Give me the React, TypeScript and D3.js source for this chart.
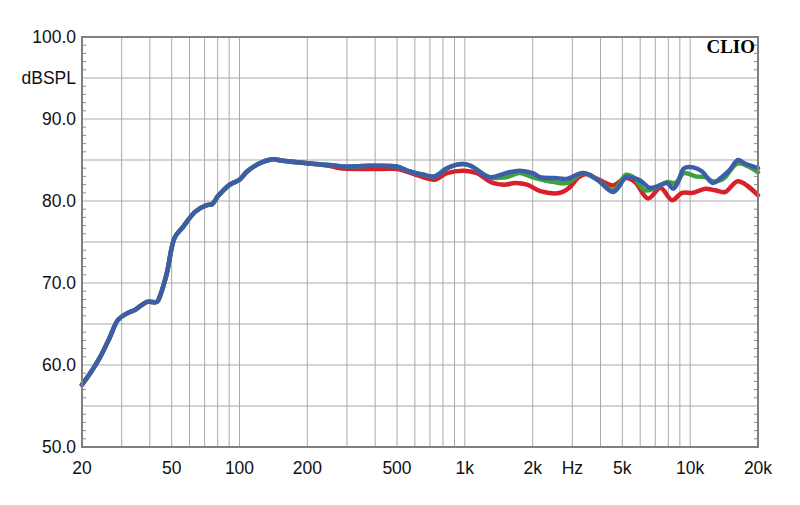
import React from "react";
import * as d3 from "d3";

const blueFreq = [20, 22, 24, 26.5, 28.9, 31.7, 34.3, 38.9, 43, 44.5, 47.6, 51.5, 56, 63.7, 71.6, 75.5, 80.3, 90.6, 100, 108, 123, 140, 156, 200, 250, 300, 380, 500, 555, 654, 735, 834, 975, 1060, 1290, 1520, 1750, 2000, 2160, 2500, 2840, 3350, 3870, 4560, 5200, 5600, 6000, 6600, 7000, 7900, 8400, 8800, 9400, 10300, 11300, 12600, 13800, 15000, 16300, 17400, 20000];
const blueDb = [57.6, 59.2, 60.9, 63.3, 65.5, 66.3, 66.7, 67.7, 67.7, 68.5, 71.2, 75.5, 76.8, 78.7, 79.5, 79.6, 80.6, 82.0, 82.6, 83.6, 84.6, 85.1, 84.9, 84.6, 84.4, 84.2, 84.3, 84.2, 83.7, 83.2, 83.0, 84.0, 84.5, 84.3, 82.9, 83.4, 83.7, 83.4, 82.9, 82.8, 82.7, 83.4, 82.6, 81.1, 82.9, 82.8, 82.5, 81.6, 81.7, 82.2, 81.5, 82.2, 84.0, 84.1, 83.6, 82.2, 82.9, 83.8, 85.0, 84.6, 84.0];

const greenFreq = [20, 22, 24, 26.5, 28.9, 31.7, 34.3, 38.9, 43, 44.5, 47.6, 51.5, 56, 63.7, 71.6, 75.5, 80.3, 90.6, 100, 108, 123, 140, 156, 200, 250, 300, 380, 500, 555, 654, 735, 834, 975, 1060, 1290, 1520, 1750, 2000, 2500, 2840, 3350, 3870, 4560, 5200, 5600, 6300, 7000, 7900, 8600, 9400, 10600, 11700, 12600, 13800, 14300, 16300, 20000];
const greenDb = [57.6, 59.2, 60.9, 63.3, 65.5, 66.3, 66.7, 67.7, 67.7, 68.5, 71.2, 75.5, 76.8, 78.7, 79.5, 79.6, 80.6, 82.0, 82.6, 83.6, 84.6, 85.1, 84.9, 84.6, 84.4, 84.2, 84.3, 84.2, 83.7, 83.2, 83.0, 84.0, 84.5, 84.3, 82.9, 82.9, 83.4, 82.9, 82.3, 82.2, 83.4, 82.6, 81.3, 83.2, 82.9, 81.3, 81.6, 82.3, 82.2, 83.4, 83.0, 82.9, 82.4, 82.6, 82.9, 84.6, 83.5];

const redFreq = [20, 22, 24, 26.5, 28.9, 31.7, 34.3, 38.9, 43, 44.5, 47.6, 51.5, 56, 63.7, 71.6, 75.5, 80.3, 90.6, 100, 108, 123, 140, 156, 200, 250, 280, 420, 500, 654, 735, 834, 990, 1130, 1330, 1520, 1660, 1890, 2160, 2650, 2900, 3200, 3450, 3870, 4400, 4560, 5200, 5700, 6500, 7400, 8300, 9200, 10300, 11700, 12900, 14300, 16300, 20000];
const redDb = [57.6, 59.2, 60.9, 63.3, 65.5, 66.3, 66.7, 67.7, 67.7, 68.5, 71.2, 75.5, 76.8, 78.7, 79.5, 79.6, 80.6, 82.0, 82.6, 83.6, 84.6, 85.1, 84.9, 84.6, 84.3, 84.0, 83.9, 83.9, 82.9, 82.6, 83.4, 83.7, 83.4, 82.2, 82.0, 82.2, 82.0, 81.2, 81.0, 81.6, 82.9, 83.3, 82.7, 82.0, 81.9, 82.8, 82.3, 80.3, 81.6, 80.1, 81.0, 81.0, 81.5, 81.3, 81.1, 82.4, 80.7];

const yTickValues = [100, 95, 90, 80, 70, 60, 50];
const yTickLabels = ["100.0", "dBSPL", "90.0", "80.0", "70.0", "60.0", "50.0"];
const xTickValues = [20, 50, 100, 200, 500, 1000, 2000, 3000, 5000, 10000, 20000];
const xTickLabels = ["20", "50", "100", "200", "500", "1k", "2k", "Hz", "5k", "10k", "20k"];
const xGridValues = [30, 40, 50, 60, 70, 80, 90, 100, 200, 300, 400, 500, 600, 700, 800, 900, 1000, 2000, 3000, 4000, 5000, 6000, 7000, 8000, 9000, 10000];
const yGridValues = [55, 60, 65, 70, 75, 80, 85, 90, 95];

const W = 800, H = 505;
const left = 82, right = 758, top = 37, bottom = 447;

export default function App() {
  const x = d3.scaleLog().domain([20, 20000]).range([left, right]);
  const y = d3.scaleLinear().domain([50, 100]).range([bottom, top]);
  const line = d3.line<[number, number]>()
    .x((d) => x(d[0]))
    .y((d) => y(d[1]))
    .curve(d3.curveCatmullRom.alpha(0.5));
  const mk = (f: number[], v: number[]) => line(f.map((ff, i) => [ff, v[i]] as [number, number])) || "";
  const minor = d3.range(51, 100).filter((v) => v % 5 !== 0);
  const font = "'Liberation Sans', Arial, sans-serif";
  return (
    <svg width={W} height={H} style={{ position: "absolute", left: 0, top: 0, background: "#fff" }}>
      <rect x={0} y={0} width={W} height={H} fill="#fff" />
      {xGridValues.map((f) => (
        <line key={"xg" + f} x1={x(f)} x2={x(f)} y1={top} y2={bottom} stroke="#a9a9a9" strokeWidth={1} />
      ))}
      {yGridValues.map((v) => (
        <line key={"yg" + v} x1={left} x2={right} y1={y(v)} y2={y(v)} stroke="#a9a9a9" strokeWidth={1} />
      ))}
      {minor.map((v) => (
        <g key={"mt" + v}>
          <line x1={left} x2={left + 4} y1={y(v)} y2={y(v)} stroke="#8a8a8a" strokeWidth={1} />
          <line x1={right - 4} x2={right} y1={y(v)} y2={y(v)} stroke="#8a8a8a" strokeWidth={1} />
        </g>
      ))}
      <g fill="none" strokeWidth={4.5} strokeLinejoin="round" strokeLinecap="round">
        <path d={mk(redFreq, redDb)} stroke="#d8202c" />
        <path d={mk(greenFreq, greenDb)} stroke="#3ea23c" />
        <path d={mk(blueFreq, blueDb)} stroke="#3c5ea8" />
      </g>
      <rect x={left} y={top} width={right - left} height={bottom - top} fill="none" stroke="#808080" strokeWidth={2} />
      {yTickValues.map((v, i) => (
        <text key={"yl" + v} x={76} y={y(v)} dy="0.36em" textAnchor="end" fontFamily={font} fontSize={17.5} fill="#111">
          {yTickLabels[i]}
        </text>
      ))}
      {xTickValues.map((f, i) => (
        <text key={"xl" + f} x={x(f)} y={468} dy="0.36em" textAnchor="middle" fontFamily={font} fontSize={17.5} fill="#111">
          {xTickLabels[i]}
        </text>
      ))}
      <text x={755} y={53} textAnchor="end" fontFamily="'Liberation Serif', 'Times New Roman', serif" fontWeight="bold" fontSize={19} fill="#000">
        CLIO
      </text>
    </svg>
  );
}
